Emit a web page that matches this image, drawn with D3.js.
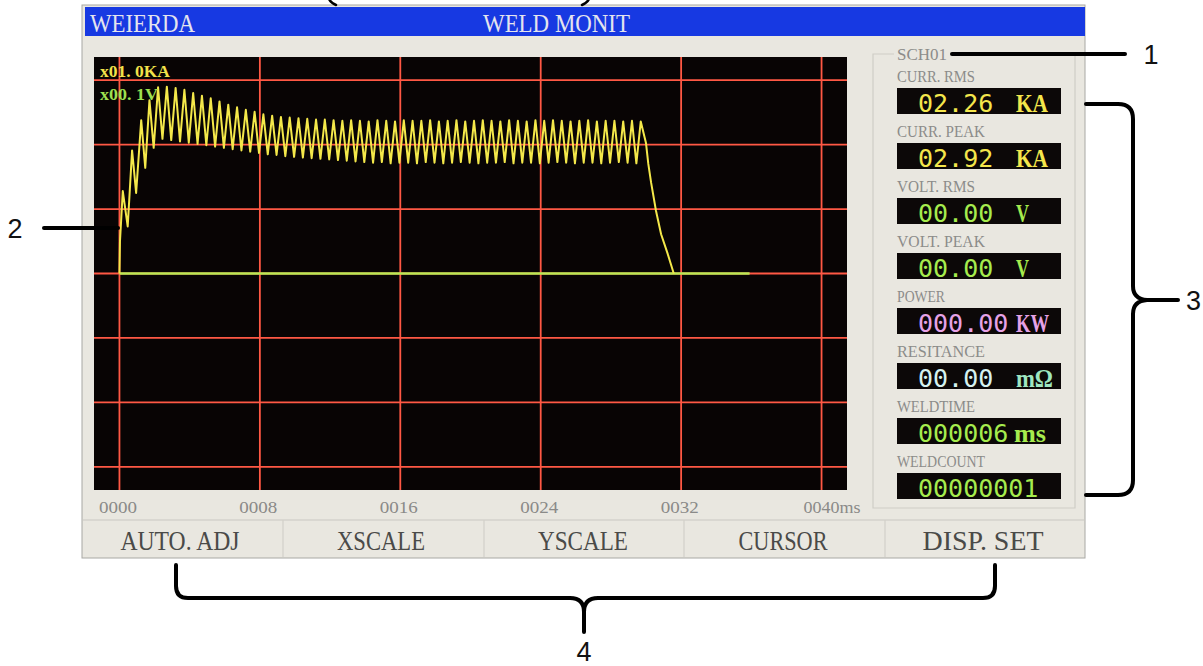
<!DOCTYPE html>
<html lang="en">
<head>
<meta charset="utf-8">
<title>Weld Monit</title>
<script src="https://d3js.org/d3.v7.min.js"></script>
<style>
  body { margin: 0; background: #fff; }
  svg { display: block; }
</style>
</head>
<body>
<div id="chart"></div>
<script>
// ---- data ----
var currentTimeMs = [
  0, 0.03, 0.19, 0.47, 0.72, 0.95, 1.24, 1.47, 1.71, 1.95,
  2.20, 2.45, 2.70, 2.95,  3.20, 3.45, 3.70, 3.95,  4.20, 4.45, 4.70, 4.95,
  5.20, 5.45, 5.70, 5.95,  6.20, 6.45, 6.70, 6.95,  7.20, 7.45, 7.70, 7.95,
  8.20, 8.45, 8.70, 8.95,  9.20, 9.45, 9.70, 9.95,  10.20, 10.45, 10.70, 10.95,
  11.20, 11.45, 11.70, 11.95,  12.20, 12.45, 12.70, 12.95,  13.20, 13.45, 13.70, 13.95,
  14.20, 14.45, 14.70, 14.95,  15.20, 15.45, 15.70, 15.95,  16.20, 16.45, 16.70, 16.95,
  17.20, 17.45, 17.70, 17.95,  18.20, 18.45, 18.70, 18.95,  19.20, 19.45, 19.70, 19.95,
  20.20, 20.45, 20.70, 20.95,  21.20, 21.45, 21.70, 21.95,  22.20, 22.45, 22.70, 22.95,
  23.20, 23.45, 23.70, 23.95,  24.20, 24.45, 24.70, 24.95,  25.20, 25.45, 25.70, 25.95,
  26.20, 26.45, 26.70, 26.95,  27.20, 27.45, 27.70, 27.95,  28.20, 28.45, 28.70, 28.95,
  29.20, 29.45, 29.70,
  30.00, 30.13, 30.29, 30.57, 30.86, 31.24, 31.58
];
var currentKA = [
  0, 0.50, 1.28, 0.73, 1.91, 1.25, 2.38, 1.64, 2.69, 1.95,
  2.89, 2.09, 2.90, 2.07,  2.88, 2.05, 2.85, 2.03,  2.80, 2.01, 2.76, 1.99,
  2.72, 1.97, 2.67, 1.95,  2.62, 1.93, 2.58, 1.91,  2.54, 1.89, 2.51, 1.87,
  2.47, 1.85, 2.45, 1.84,  2.43, 1.82, 2.42, 1.81,  2.41, 1.80, 2.40, 1.79,
  2.39, 1.78, 2.39, 1.77,  2.38, 1.76, 2.37, 1.75,  2.38, 1.74, 2.37, 1.73,
  2.36, 1.72, 2.38, 1.73,  2.37, 1.71, 2.36, 1.72,  2.38, 1.72, 2.37, 1.71,
  2.37, 1.73, 2.38, 1.72,  2.36, 1.71, 2.37, 1.72,  2.38, 1.73, 2.36, 1.72,
  2.37, 1.71, 2.38, 1.72,  2.37, 1.72, 2.36, 1.73,  2.38, 1.71, 2.37, 1.72,
  2.36, 1.72, 2.38, 1.71,  2.37, 1.72, 2.38, 1.73,  2.37, 1.72, 2.36, 1.71,
  2.37, 1.72, 2.38, 1.72,  2.36, 1.71, 2.37, 1.72,  2.37, 1.73, 2.36, 1.72,
  2.37, 1.71, 2.36,
  2.02, 1.70, 1.41, 0.97, 0.61, 0.30, 0
];
var voltageTimeMs = [0, 35.9];
var voltageV = [0, 0];

var xTicks = [0, 8, 16, 24, 32, 40];
var yGridKA = [-3, -2, -1, 0, 1, 2, 3];
var scaleLabels = ["x01. 0KA", "x00. 1V"];

var metricLabels = ["CURR. RMS", "CURR. PEAK", "VOLT. RMS", "VOLT. PEAK", "POWER", "RESITANCE", "WELDTIME", "WELDCOUNT"];
var metricValues = [2.26, 2.92, 0, 0, 0, 0, 6, 1];
var metricUnits = ["KA", "KA", "V", "V", "KW", "m\u03A9", "ms", ""];
var buttonLabels = ["AUTO. ADJ", "XSCALE", "YSCALE", "CURSOR", "DISP. SET"];

// ---- styles ----
var metricFormats = ["05.2f", "05.2f", "05.2f", "05.2f", "06.2f", "05.2f", "06d", "08d"];
var labelLengths = [78, 88, 78, 88, 48, 88, 78, 88];
var valueColors = ["#f4e64c", "#f4e64c", "#a6ec4e", "#a6ec4e", "#e6a2e6", "#d6f2f0", "#a6ec4e", "#a6ec4e"];
var unitColors  = ["#f4e64c", "#f4e64c", "#a6ec4e", "#a6ec4e", "#e6a2e6", "#9ee6c0", "#a6ec4e", "#a6ec4e"];
var unitLengths = [32, 32, 13, 13, 33, 37, 32, 0];
var buttonCenters = [180, 381, 583, 783, 983];
var buttonLengths = [119, 88, 90, 89, 121];

var W = 1203, H = 666;
var serif = "'Liberation Serif', 'Times New Roman', serif";
var sans = "'Liberation Sans', Arial, sans-serif";

var svg = d3.select("#chart").append("svg")
  .attr("width", W).attr("height", H);

svg.append("rect").attr("width", W).attr("height", H).attr("fill", "#fff");

// screen
svg.append("rect")
  .attr("x", 82).attr("y", 5).attr("width", 1003).attr("height", 553)
  .attr("fill", "#e9e7e0").attr("stroke", "#a8a8a4").attr("stroke-width", 1);

// title bar
svg.append("rect")
  .attr("x", 85).attr("y", 7).attr("width", 1000).attr("height", 29)
  .attr("fill", "#1739e2");
svg.append("text")
  .attr("x", 90).attr("y", 32)
  .attr("font-family", serif).attr("font-size", 26)
  .attr("textLength", 105).attr("lengthAdjust", "spacingAndGlyphs")
  .attr("fill", "#e4e4ee")
  .text("WEIERDA");
svg.append("text")
  .attr("x", 483).attr("y", 32)
  .attr("font-family", serif).attr("font-size", 26)
  .attr("textLength", 147).attr("lengthAdjust", "spacingAndGlyphs")
  .attr("fill", "#e4e4ee")
  .text("WELD MONIT");

// ---- waveform area ----
var x = d3.scaleLinear().domain([-1.45, 41.45]).range([94, 847]);
var y = d3.scaleLinear().domain([-3.36, 3.36]).range([490, 57]);
var yV = d3.scaleLinear().domain([-0.336, 0.336]).range([490, 57]);

var plot = svg.append("g");
plot.append("rect")
  .attr("x", x.range()[0]).attr("y", y.range()[1])
  .attr("width", x.range()[1] - x.range()[0])
  .attr("height", y.range()[0] - y.range()[1])
  .attr("fill", "#080404");

// grid
plot.selectAll(".vgrid").data(xTicks).enter().append("line")
  .attr("x1", function(d) { return x(d); }).attr("x2", function(d) { return x(d); })
  .attr("y1", y.range()[1]).attr("y2", y.range()[0])
  .attr("stroke", "#ff5844").attr("stroke-width", 1.8);
plot.selectAll(".hgrid").data(yGridKA).enter().append("line")
  .attr("x1", x.range()[0]).attr("x2", x.range()[1])
  .attr("y1", function(d) { return y(d); }).attr("y2", function(d) { return y(d); })
  .attr("stroke", "#ff5844").attr("stroke-width", 1.8);

// voltage trace
var vPts = voltageTimeMs.map(function(t, i) { return [t, voltageV[i]]; });
plot.append("path")
  .datum(vPts)
  .attr("fill", "none").attr("stroke", "#b8e854").attr("stroke-width", 2.4)
  .attr("d", d3.line().x(function(d) { return x(d[0]); }).y(function(d) { return yV(d[1]); }));

// current trace
var iPts = currentTimeMs.map(function(t, i) { return [t, currentKA[i]]; });
plot.append("path")
  .datum(iPts)
  .attr("fill", "none").attr("stroke", "#f4e84a").attr("stroke-width", 2)
  .attr("stroke-linejoin", "round")
  .attr("d", d3.line().x(function(d) { return x(d[0]); }).y(function(d) { return y(d[1]); }));

// scale labels
plot.append("text")
  .attr("x", 100).attr("y", 77)
  .attr("font-family", serif).attr("font-size", 16).attr("font-weight", "bold")
  .attr("textLength", 70).attr("lengthAdjust", "spacingAndGlyphs")
  .attr("fill", "#f2e24a").text(scaleLabels[0]);
plot.append("text")
  .attr("x", 100).attr("y", 100)
  .attr("font-family", serif).attr("font-size", 16).attr("font-weight", "bold")
  .attr("textLength", 58).attr("lengthAdjust", "spacingAndGlyphs")
  .attr("fill", "#9ee050").text(scaleLabels[1]);

// x axis labels
var xAxis = svg.append("g")
  .attr("transform", "translate(0," + y.range()[0] + ")")
  .call(d3.axisBottom(x).tickValues(xTicks).tickSize(0).tickPadding(11)
    .tickFormat(function(d) { return d3.format("04d")(d) + (d === 40 ? "ms" : ""); }));
xAxis.select(".domain").remove();
xAxis.selectAll("text")
  .attr("font-family", serif).attr("font-size", 17)
  .attr("fill", "#8a8a88")
  .attr("textLength", function(d) { return d === 40 ? 57 : 38; })
  .attr("lengthAdjust", "spacingAndGlyphs")
  .attr("dx", function(d) { return d === 40 ? 10 : -2; });

// ---- measurement panel ----
var panel = svg.append("g");
panel.append("path")
  .attr("d", "M894,54 H873 V508 H1075 V54 H951")
  .attr("fill", "none").attr("stroke", "#cfcdc6").attr("stroke-width", 1.2);
panel.append("text")
  .attr("x", 897).attr("y", 60)
  .attr("font-family", serif).attr("font-size", 16)
  .attr("textLength", 50).attr("lengthAdjust", "spacingAndGlyphs")
  .attr("fill", "#8c8c8a").text("SCH01");

var rows = panel.selectAll(".metric").data(metricLabels).enter().append("g")
  .attr("transform", function(d, i) { return "translate(0," + (88 + 55 * i) + ")"; });
rows.append("text")
  .attr("x", 897).attr("y", -6.5)
  .attr("font-family", serif).attr("font-size", 16)
  .attr("textLength", function(d, i) { return labelLengths[i]; })
  .attr("lengthAdjust", "spacingAndGlyphs")
  .attr("fill", "#8c8c8a")
  .text(function(d) { return d; });
rows.append("rect")
  .attr("x", 897).attr("y", 0).attr("width", 164).attr("height", 26)
  .attr("fill", "#0c0808");
rows.append("text")
  .attr("x", 918).attr("y", 23.5)
  .attr("font-family", "'DejaVu Sans Mono', monospace").attr("font-size", 25)
  .attr("fill", function(d, i) { return valueColors[i]; })
  .text(function(d, i) { return d3.format(metricFormats[i])(metricValues[i]); });
rows.append("text")
  .attr("x", function(d, i) { return i === 6 ? 1014 : 1016; }).attr("y", 23.5)
  .attr("font-family", serif).attr("font-size", 26).attr("font-weight", "bold")
  .attr("fill", function(d, i) { return unitColors[i]; })
  .each(function(d, i) {
    if (unitLengths[i] > 0) {
      d3.select(this).attr("textLength", unitLengths[i]).attr("lengthAdjust", "spacingAndGlyphs");
    }
  })
  .text(function(d, i) { return metricUnits[i]; });

// ---- soft buttons ----
var btn = svg.append("g");
btn.append("line")
  .attr("x1", 83).attr("x2", 1084).attr("y1", 520).attr("y2", 520)
  .attr("stroke", "#cac8c1").attr("stroke-width", 1.2);
btn.selectAll(".sep").data([283, 484, 684, 885]).enter().append("line")
  .attr("x1", function(d) { return d; }).attr("x2", function(d) { return d; })
  .attr("y1", 520).attr("y2", 557)
  .attr("stroke", "#d2d0c9").attr("stroke-width", 1.2);
btn.selectAll(".blabel").data(buttonLabels).enter().append("text")
  .attr("x", function(d, i) { return buttonCenters[i]; }).attr("y", 550)
  .attr("text-anchor", "middle")
  .attr("font-family", serif).attr("font-size", 27)
  .attr("textLength", function(d, i) { return buttonLengths[i]; })
  .attr("lengthAdjust", "spacingAndGlyphs")
  .attr("fill", "#4a4a48")
  .text(function(d) { return d; });

// ---- call-out annotations ----
var ann = svg.append("g")
  .attr("fill", "none").attr("stroke", "#000").attr("stroke-width", 4)
  .attr("stroke-linecap", "round").attr("stroke-linejoin", "round");
ann.append("path").attr("d", "M952,54 H1125");
ann.append("path").attr("d", "M44,228 H118");
ann.append("path").attr("d", "M1086,104 H1118 Q1133,104 1133,119 V286 Q1133,299 1147,300 Q1133,301 1133,314 V480 Q1133,495 1118,495 H1086");
ann.append("path").attr("d", "M1147,300 H1178");
ann.append("path").attr("d", "M176,565 V586 Q176,598 188,598 H570 Q584,598 584,612 V632 M584,612 Q584,598 598,598 H983 Q995,598 995,586 V565");
ann.append("path").attr("d", "M329,-1 Q331,3 336,5").attr("stroke-width", 2.5);
ann.append("path").attr("d", "M589,-1 Q587,3 582,5").attr("stroke-width", 2.5);

var numbers = svg.append("g")
  .attr("font-family", sans).attr("font-size", 27).attr("fill", "#111");
numbers.append("text").attr("x", 1151).attr("y", 64).attr("text-anchor", "middle").text("1");
numbers.append("text").attr("x", 15).attr("y", 238).attr("text-anchor", "middle").text("2");
numbers.append("text").attr("x", 1186).attr("y", 310).text("3");
numbers.append("text").attr("x", 584).attr("y", 661).attr("text-anchor", "middle").text("4");
</script>
</body>
</html>
